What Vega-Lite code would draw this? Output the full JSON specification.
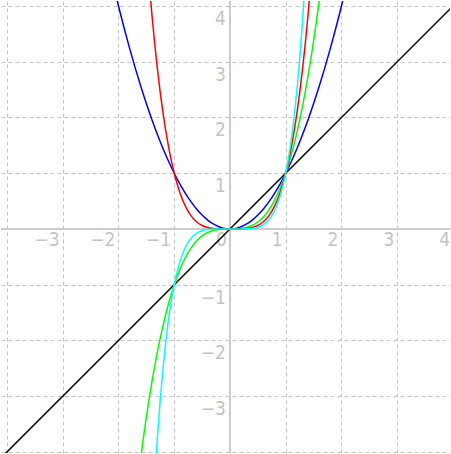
{
  "$schema": "https://vega.github.io/schema/vega-lite/v6.json",
  "width": 451,
  "height": 454,
  "padding": 0,
  "autosize": {"type": "fit", "contains": "padding"},
  "background": "white",
  "config": {"view": {"stroke": null}},
  "datasets": {
    "curves": [
      {"f": "x1", "x": -4.3, "y": -4.3}, {"f": "x1", "x": 4.3, "y": 4.3},
      {"f": "x2", "x": -2.1, "y": 4.41}, {"f": "x2", "x": -2.0, "y": 4.0}, {"f": "x2", "x": -1.9, "y": 3.61}, {"f": "x2", "x": -1.8, "y": 3.24}, {"f": "x2", "x": -1.7, "y": 2.89}, {"f": "x2", "x": -1.6, "y": 2.56}, {"f": "x2", "x": -1.5, "y": 2.25}, {"f": "x2", "x": -1.4, "y": 1.96}, {"f": "x2", "x": -1.3, "y": 1.69}, {"f": "x2", "x": -1.2, "y": 1.44}, {"f": "x2", "x": -1.1, "y": 1.21}, {"f": "x2", "x": -1.0, "y": 1.0}, {"f": "x2", "x": -0.9, "y": 0.81}, {"f": "x2", "x": -0.8, "y": 0.64}, {"f": "x2", "x": -0.7, "y": 0.49}, {"f": "x2", "x": -0.6, "y": 0.36}, {"f": "x2", "x": -0.5, "y": 0.25}, {"f": "x2", "x": -0.4, "y": 0.16}, {"f": "x2", "x": -0.3, "y": 0.09}, {"f": "x2", "x": -0.2, "y": 0.04}, {"f": "x2", "x": -0.1, "y": 0.01}, {"f": "x2", "x": 0, "y": 0}, {"f": "x2", "x": 0.1, "y": 0.01}, {"f": "x2", "x": 0.2, "y": 0.04}, {"f": "x2", "x": 0.3, "y": 0.09}, {"f": "x2", "x": 0.4, "y": 0.16}, {"f": "x2", "x": 0.5, "y": 0.25}, {"f": "x2", "x": 0.6, "y": 0.36}, {"f": "x2", "x": 0.7, "y": 0.49}, {"f": "x2", "x": 0.8, "y": 0.64}, {"f": "x2", "x": 0.9, "y": 0.81}, {"f": "x2", "x": 1.0, "y": 1.0}, {"f": "x2", "x": 1.1, "y": 1.21}, {"f": "x2", "x": 1.2, "y": 1.44}, {"f": "x2", "x": 1.3, "y": 1.69}, {"f": "x2", "x": 1.4, "y": 1.96}, {"f": "x2", "x": 1.5, "y": 2.25}, {"f": "x2", "x": 1.6, "y": 2.56}, {"f": "x2", "x": 1.7, "y": 2.89}, {"f": "x2", "x": 1.8, "y": 3.24}, {"f": "x2", "x": 1.9, "y": 3.61}, {"f": "x2", "x": 2.0, "y": 4.0}, {"f": "x2", "x": 2.1, "y": 4.41},
      {"f": "x3", "x": -1.7, "y": -4.913}, {"f": "x3", "x": -1.65, "y": -4.492}, {"f": "x3", "x": -1.6, "y": -4.096}, {"f": "x3", "x": -1.55, "y": -3.724}, {"f": "x3", "x": -1.5, "y": -3.375}, {"f": "x3", "x": -1.4, "y": -2.744}, {"f": "x3", "x": -1.3, "y": -2.197}, {"f": "x3", "x": -1.2, "y": -1.728}, {"f": "x3", "x": -1.1, "y": -1.331}, {"f": "x3", "x": -1.0, "y": -1.0}, {"f": "x3", "x": -0.9, "y": -0.729}, {"f": "x3", "x": -0.8, "y": -0.512}, {"f": "x3", "x": -0.7, "y": -0.343}, {"f": "x3", "x": -0.6, "y": -0.216}, {"f": "x3", "x": -0.5, "y": -0.125}, {"f": "x3", "x": -0.4, "y": -0.064}, {"f": "x3", "x": -0.3, "y": -0.027}, {"f": "x3", "x": -0.2, "y": -0.008}, {"f": "x3", "x": -0.1, "y": -0.001}, {"f": "x3", "x": 0, "y": 0}, {"f": "x3", "x": 0.1, "y": 0.001}, {"f": "x3", "x": 0.2, "y": 0.008}, {"f": "x3", "x": 0.3, "y": 0.027}, {"f": "x3", "x": 0.4, "y": 0.064}, {"f": "x3", "x": 0.5, "y": 0.125}, {"f": "x3", "x": 0.6, "y": 0.216}, {"f": "x3", "x": 0.7, "y": 0.343}, {"f": "x3", "x": 0.8, "y": 0.512}, {"f": "x3", "x": 0.9, "y": 0.729}, {"f": "x3", "x": 1.0, "y": 1.0}, {"f": "x3", "x": 1.1, "y": 1.331}, {"f": "x3", "x": 1.2, "y": 1.728}, {"f": "x3", "x": 1.3, "y": 2.197}, {"f": "x3", "x": 1.4, "y": 2.744}, {"f": "x3", "x": 1.5, "y": 3.375}, {"f": "x3", "x": 1.55, "y": 3.724}, {"f": "x3", "x": 1.6, "y": 4.096}, {"f": "x3", "x": 1.65, "y": 4.492}, {"f": "x3", "x": 1.7, "y": 4.913},
      {"f": "x4", "x": -1.5, "y": 5.0625}, {"f": "x4", "x": -1.45, "y": 4.4205}, {"f": "x4", "x": -1.4, "y": 3.8416}, {"f": "x4", "x": -1.35, "y": 3.3215}, {"f": "x4", "x": -1.3, "y": 2.8561}, {"f": "x4", "x": -1.25, "y": 2.4414}, {"f": "x4", "x": -1.2, "y": 2.0736}, {"f": "x4", "x": -1.1, "y": 1.4641}, {"f": "x4", "x": -1.0, "y": 1.0}, {"f": "x4", "x": -0.9, "y": 0.6561}, {"f": "x4", "x": -0.8, "y": 0.4096}, {"f": "x4", "x": -0.7, "y": 0.2401}, {"f": "x4", "x": -0.6, "y": 0.1296}, {"f": "x4", "x": -0.5, "y": 0.0625}, {"f": "x4", "x": -0.4, "y": 0.0256}, {"f": "x4", "x": -0.3, "y": 0.0081}, {"f": "x4", "x": -0.2, "y": 0.0016}, {"f": "x4", "x": -0.1, "y": 0.0001}, {"f": "x4", "x": 0, "y": 0}, {"f": "x4", "x": 0.1, "y": 0.0001}, {"f": "x4", "x": 0.2, "y": 0.0016}, {"f": "x4", "x": 0.3, "y": 0.0081}, {"f": "x4", "x": 0.4, "y": 0.0256}, {"f": "x4", "x": 0.5, "y": 0.0625}, {"f": "x4", "x": 0.6, "y": 0.1296}, {"f": "x4", "x": 0.7, "y": 0.2401}, {"f": "x4", "x": 0.8, "y": 0.4096}, {"f": "x4", "x": 0.9, "y": 0.6561}, {"f": "x4", "x": 1.0, "y": 1.0}, {"f": "x4", "x": 1.1, "y": 1.4641}, {"f": "x4", "x": 1.2, "y": 2.0736}, {"f": "x4", "x": 1.25, "y": 2.4414}, {"f": "x4", "x": 1.3, "y": 2.8561}, {"f": "x4", "x": 1.35, "y": 3.3215}, {"f": "x4", "x": 1.4, "y": 3.8416}, {"f": "x4", "x": 1.45, "y": 4.4205}, {"f": "x4", "x": 1.5, "y": 5.0625},
      {"f": "x5", "x": -1.4, "y": -5.37824}, {"f": "x5", "x": -1.35, "y": -4.484}, {"f": "x5", "x": -1.3, "y": -3.71293}, {"f": "x5", "x": -1.25, "y": -3.0518}, {"f": "x5", "x": -1.2, "y": -2.48832}, {"f": "x5", "x": -1.15, "y": -2.01136}, {"f": "x5", "x": -1.1, "y": -1.61051}, {"f": "x5", "x": -1.05, "y": -1.2763}, {"f": "x5", "x": -1.0, "y": -1.0}, {"f": "x5", "x": -0.9, "y": -0.59049}, {"f": "x5", "x": -0.8, "y": -0.32768}, {"f": "x5", "x": -0.7, "y": -0.16807}, {"f": "x5", "x": -0.6, "y": -0.07776}, {"f": "x5", "x": -0.5, "y": -0.03125}, {"f": "x5", "x": -0.4, "y": -0.01024}, {"f": "x5", "x": -0.3, "y": -0.00243}, {"f": "x5", "x": -0.2, "y": -0.00032}, {"f": "x5", "x": -0.1, "y": -0.00001}, {"f": "x5", "x": 0, "y": 0}, {"f": "x5", "x": 0.1, "y": 0.00001}, {"f": "x5", "x": 0.2, "y": 0.00032}, {"f": "x5", "x": 0.3, "y": 0.00243}, {"f": "x5", "x": 0.4, "y": 0.01024}, {"f": "x5", "x": 0.5, "y": 0.03125}, {"f": "x5", "x": 0.6, "y": 0.07776}, {"f": "x5", "x": 0.7, "y": 0.16807}, {"f": "x5", "x": 0.8, "y": 0.32768}, {"f": "x5", "x": 0.9, "y": 0.59049}, {"f": "x5", "x": 1.0, "y": 1.0}, {"f": "x5", "x": 1.05, "y": 1.2763}, {"f": "x5", "x": 1.1, "y": 1.61051}, {"f": "x5", "x": 1.15, "y": 2.01136}, {"f": "x5", "x": 1.2, "y": 2.48832}, {"f": "x5", "x": 1.25, "y": 3.0518}, {"f": "x5", "x": 1.3, "y": 3.71293}, {"f": "x5", "x": 1.35, "y": 4.484}, {"f": "x5", "x": 1.4, "y": 5.37824}
    ],
    "xlabels": [
      {"v": -3, "t": "−3"}, {"v": -2, "t": "−2"}, {"v": -1, "t": "−1"}, {"v": 0, "t": "0"}, {"v": 1, "t": "1"}, {"v": 2, "t": "2"}, {"v": 3, "t": "3"}, {"v": 4, "t": "4"}
    ],
    "ylabels": [
      {"v": 4, "t": "4"}, {"v": 3, "t": "3"}, {"v": 2, "t": "2"}, {"v": 1, "t": "1"}, {"v": -1, "t": "−1"}, {"v": -2, "t": "−2"}, {"v": -3, "t": "−3"}
    ],
    "zero": [{"z": 0}]
  },
  "layer": [
    {
      "data": {"name": "zero"},
      "mark": {"type": "rule", "color": "#cccccc", "strokeWidth": 2},
      "encoding": {
        "x": {"field": "z", "type": "quantitative", "scale": {"domain": [-4.107, 3.946], "nice": false, "zero": false},
              "axis": {"values": [-4, -3, -2, -1, 0, 1, 2, 3, 4], "grid": true, "gridDash": [4, 3], "gridColor": "#c8c8c8", "gridWidth": 1, "domain": false, "ticks": false, "labels": false, "title": null}}
      }
    },
    {
      "data": {"name": "zero"},
      "mark": {"type": "rule", "color": "#cccccc", "strokeWidth": 2},
      "encoding": {
        "y": {"field": "z", "type": "quantitative", "scale": {"domain": [-4.018, 4.089], "nice": false, "zero": false},
              "axis": {"values": [-4, -3, -2, -1, 0, 1, 2, 3, 4], "grid": true, "gridDash": [4, 3], "gridColor": "#c8c8c8", "gridWidth": 1, "domain": false, "ticks": false, "labels": false, "title": null}}
      }
    },
    {
      "data": {"name": "xlabels"},
      "mark": {"type": "text", "align": "right", "baseline": "top", "dx": -3, "dy": 2, "font": "Liberation Sans Narrow, DejaVu Sans Condensed, Liberation Sans", "fontSize": 19, "color": "#c4c4c4"},
      "encoding": {
        "x": {"field": "v", "type": "quantitative"},
        "y": {"datum": 0, "type": "quantitative"},
        "text": {"field": "t"}
      }
    },
    {
      "data": {"name": "ylabels"},
      "mark": {"type": "text", "align": "right", "baseline": "top", "dx": -4, "dy": 4, "font": "Liberation Sans Narrow, DejaVu Sans Condensed, Liberation Sans", "fontSize": 19, "color": "#c4c4c4"},
      "encoding": {
        "x": {"datum": 0, "type": "quantitative"},
        "y": {"field": "v", "type": "quantitative"},
        "text": {"field": "t"}
      }
    },
    {
      "data": {"name": "curves"},
      "mark": {"type": "line", "clip": true, "interpolate": "monotone", "strokeWidth": 1.5},
      "encoding": {
        "x": {"field": "x", "type": "quantitative"},
        "y": {"field": "y", "type": "quantitative"},
        "color": {"field": "f", "type": "nominal", "scale": {"domain": ["x1", "x2", "x3", "x4", "x5"], "range": ["#000000", "#0000ff", "#00ff00", "#ff0000", "#00ffff"]}, "legend": null},
        "order": {"field": "x", "type": "quantitative"}
      }
    }
  ]
}
